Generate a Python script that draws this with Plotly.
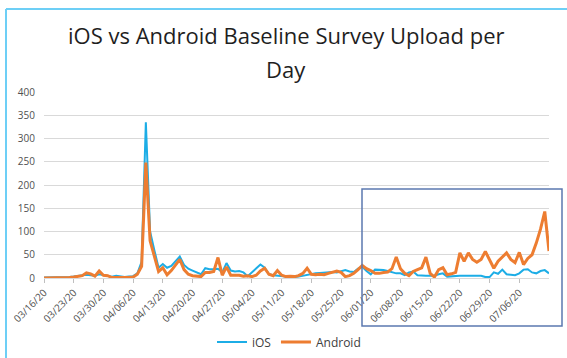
import pandas as pd
import plotly.graph_objects as go

start_date = "2020-03-16"
n_days = 120
dates = pd.date_range(start_date, periods=n_days, freq="D")

ios = [1, 1, 2, 1, 1, 2, 2, 3, 4, 5,
       7, 6, 5, 8, 6, 5, 3, 5, 3, 2,
       3, 4, 10, 35, 335, 100, 60, 22, 30, 22,
       26, 35, 46, 28, 20, 16, 12, 8, 21, 19,
       19, 20, 12, 32, 16, 14, 15, 12, 4, 12,
       20, 29, 22, 8, 6, 5, 3, 3, 3, 2,
       3, 5, 7, 8, 10, 11, 12, 12, 13, 12,
       14, 17, 14, 13, 20, 24, 15, 8, 18, 18,
       17, 15, 12, 10, 10, 6, 12, 14, 6, 5,
       5, 5, 5, 8, 10, 3, 4, 5, 5, 5,
       5, 5, 6, 5, 2, 2, 12, 9, 18, 8,
       7, 6, 10, 18, 19, 12, 10, 15, 17, 10]

android = [0, 0, 0, 1, 1, 1, 1, 2, 3, 5,
           11, 9, 4, 15, 6, 5, 1, 1, 1, 0,
           1, 2, 8, 25, 248, 80, 45, 14, 22, 7,
           16, 28, 40, 18, 8, 5, 4, 3, 12, 12,
           14, 44, 6, 24, 6, 6, 6, 4, 5, 3,
           6, 15, 21, 8, 5, 16, 6, 3, 4, 3,
           5, 10, 21, 8, 7, 8, 7, 10, 12, 15,
           12, 3, 5, 10, 18, 27, 20, 16, 10, 10,
           12, 13, 20, 45, 20, 10, 5, 14, 18, 22,
           45, 10, 2, 18, 22, 7, 9, 12, 54, 36,
           54, 40, 34, 40, 57, 40, 21, 36, 45, 54,
           40, 33, 55, 29, 42, 50, 75, 105, 143, 58]

tick_dates = pd.date_range(start_date, "2020-07-06", freq="7D")
y_ticks = [0, 50, 100, 150, 200, 250, 300, 350, 400]

W, H = 567, 358
ML, MR, MT, MB = 44, 18, 92, 80
PW, PH = W - ML - MR, H - MT - MB


def px_x(p):
    return (p - ML) / PW


def px_y(p):
    return (H - MB - p) / PH


fig = go.Figure()
fig.add_trace(go.Scatter(x=dates, y=ios, mode="lines", name="iOS",
                         line=dict(color="#1CADE6", width=2)))
fig.add_trace(go.Scatter(x=dates, y=android, mode="lines", name="Android",
                         line=dict(color="#ED7D31", width=3)))

fig.update_layout(
    width=W, height=H,
    margin=dict(l=ML, r=MR, t=MT, b=MB, pad=0, autoexpand=False),
    paper_bgcolor="white", plot_bgcolor="white",
    font=dict(family="Open Sans", color="#595959", size=10),
    showlegend=True,
    legend=dict(orientation="h", x=px_x(289), y=px_y(342), xanchor="center",
                yanchor="middle", font=dict(size=12, color="#404040"),
                itemwidth=30, tracegroupgap=0),
    xaxis=dict(type="date", range=[dates[0], dates[-1]],
               tickvals=list(tick_dates), tickformat="%m/%d/%y",
               tickangle=-45, showgrid=False, showline=True,
               linecolor="#D9D9D9", linewidth=1, ticks="outside",
               ticklen=4, tickcolor="#BFBFBF", zeroline=False,
               automargin=False,
               tickfont=dict(size=10, color="#505050")),
    yaxis=dict(range=[0, 400], tickvals=y_ticks, showgrid=True,
               gridcolor="#D9D9D9", gridwidth=1, zeroline=False,
               showline=False, ticks="", ticklabelstandoff=8,
               automargin=False,
               tickfont=dict(size=10, color="#505050")),
    annotations=[
        dict(text="iOS vs Android Baseline Survey Upload per", xref="paper",
             yref="paper", x=px_x(286), y=px_y(35), xanchor="center",
             yanchor="middle", showarrow=False,
             font=dict(size=22, color="#1f1f1f", family="Open Sans")),
        dict(text="Day", xref="paper", yref="paper", x=px_x(286),
             y=px_y(69), xanchor="center", yanchor="middle",
             showarrow=False,
             font=dict(size=22, color="#1f1f1f", family="Open Sans")),
    ],
    shapes=[
        dict(type="line", xref="paper", yref="paper", x0=px_x(6), x1=px_x(570),
             y0=px_y(9), y1=px_y(9), line=dict(color="#6DCFF6", width=2)),
        dict(type="line", xref="paper", yref="paper", x0=px_x(6), x1=px_x(6),
             y0=px_y(9), y1=px_y(362), line=dict(color="#6DCFF6", width=2)),
        dict(type="rect", xref="paper", yref="paper", x0=px_x(362),
             x1=px_x(562), y0=px_y(326), y1=px_y(189),
             line=dict(color="#5B78B0", width=1.5)),
    ],
)

fig.write_html("out.html")
